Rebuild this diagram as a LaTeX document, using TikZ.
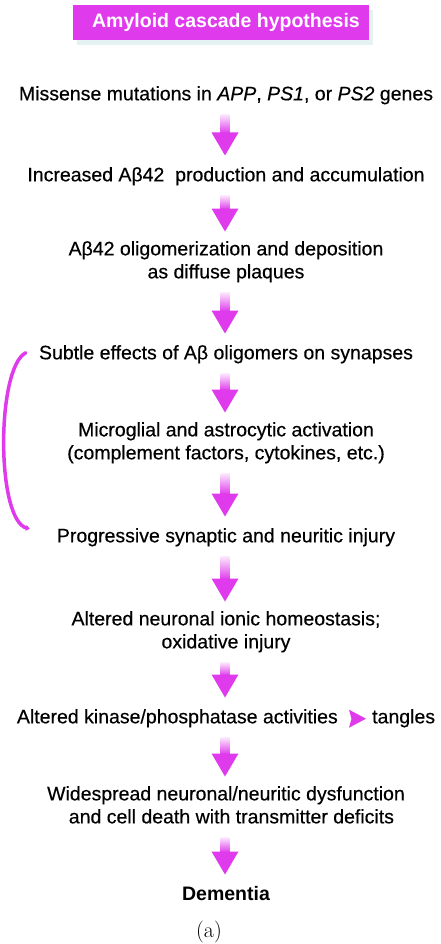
\documentclass[tikz,border=0pt]{standalone}
\usepackage{fontspec}
\setsansfont{Liberation Sans}[UprightFeatures={FakeBold=0.4},ItalicFeatures={FakeBold=0.4}]
\usetikzlibrary{calc,arrows.meta,shadows}
\definecolor{flowpink}{RGB}{223,58,236}
% one pink cascade arrow, drawn under the column spine
\newcommand{\flowarrow}[2]{%
  \path ($(#1.south -| spine)+(0,-7pt)$) coordinate (fa-top)
        ($(#2.north -| spine)+(0,9.5pt)$) coordinate (fa-tip);
  \shade[top color=flowpink!12, bottom color=flowpink] ($(fa-top)+(-4.5pt,0)$) rectangle ($(fa-tip)+(4.5pt,22pt)$);
  \fill[flowpink] ($(fa-tip)+(-13.5pt,23pt)$) -- (fa-tip) -- ($(fa-tip)+(13.5pt,23pt)$) -- cycle;
}
\begin{document}
\begin{tikzpicture}[x=1pt,y=-1pt,line cap=round,line join=round,
    stage/.style={anchor=north,inner sep=0pt,align=center,font=\sffamily\fontsize{19.5}{23}\selectfont,
      execute at begin node=\strut,execute at end node=\strut},
    titlebox/.style={fill=flowpink,text=white,inner sep=0pt,minimum width=296pt,minimum height=35pt,
      font=\sffamily\bfseries\fontsize{19.5}{23}\selectfont,
      drop shadow={fill=teal!30,opacity=0.35,shadow xshift=4pt,shadow yshift=-5pt}},
    loopline/.style={flowpink,line width=3.5pt}]
  \useasboundingbox (0,0) rectangle (440,944);
  \coordinate (spine) at (225,0);
  \node[titlebox] (title) at (221,22.5) {\hspace{10pt}Amyloid cascade hypothesis};
  \node[stage] (mut) at (226,84) {Missense mutations in \textit{APP}, \textit{PS1}, or \textit{PS2} genes};
  \node[stage] (incr) at (226,165) {Increased Aβ42\ \ production and accumulation};
  \node[stage] (olig) at (226,241) {Aβ42 oligomerization and deposition\\as diffuse plaques};
  \node[stage] (subtle) at (226,343) {Subtle effects of Aβ oligomers on synapses};
  \node[stage] (glia) at (226,422) {Microglial and astrocytic activation\\(complement factors, cytokines, etc.)};
  \node[stage] (prog) at (226,526) {Progressive synaptic and neuritic injury};
  \node[stage] (ionic) at (226,611) {Altered neuronal ionic homeostasis;\\oxidative injury};
  \node[stage,anchor=north east] (kinase) at (338,707) {Altered kinase/phosphatase activities};
  \node[stage,anchor=north west] (tangles) at (372,707) {tangles};
  \node[stage] (dysf) at (226,786) {Widespread neuronal/neuritic dysfunction\\\ \ and cell death with transmitter deficits};
  \node[stage,font=\sffamily\bfseries\fontsize{19.5}{23}\selectfont] (dementia) at (226,884) {Dementia};
  \node[anchor=base,inner sep=0pt,font=\fontsize{22}{26}\selectfont] (cap) at (209,937) {(a)};
  \flowarrow{mut}{incr}
  \flowarrow{incr}{olig}
  \flowarrow{olig}{subtle}
  \flowarrow{subtle}{glia}
  \flowarrow{glia}{prog}
  \flowarrow{prog}{ionic}
  \flowarrow{ionic}{kinase}
  \flowarrow{kinase}{dysf}
  \flowarrow{dysf}{dementia}
  \fill[flowpink] ($(kinase.east)+(11pt,9pt)$) -- ($(tangles.west)+(-6pt,0)$) -- ($(kinase.east)+(11pt,-9pt)$) -- ($(kinase.east)+(13.5pt,0)$) -- cycle;
  % feedback bracket from synapses back down to injury
  \draw[loopline,-{Stealth[length=4pt,width=6pt]}] ([xshift=-13pt,yshift=2pt]subtle.west) .. controls (-4,368) and (-4,522) .. ([xshift=-27pt,yshift=9pt]prog.west);
\end{tikzpicture}
\end{document}
